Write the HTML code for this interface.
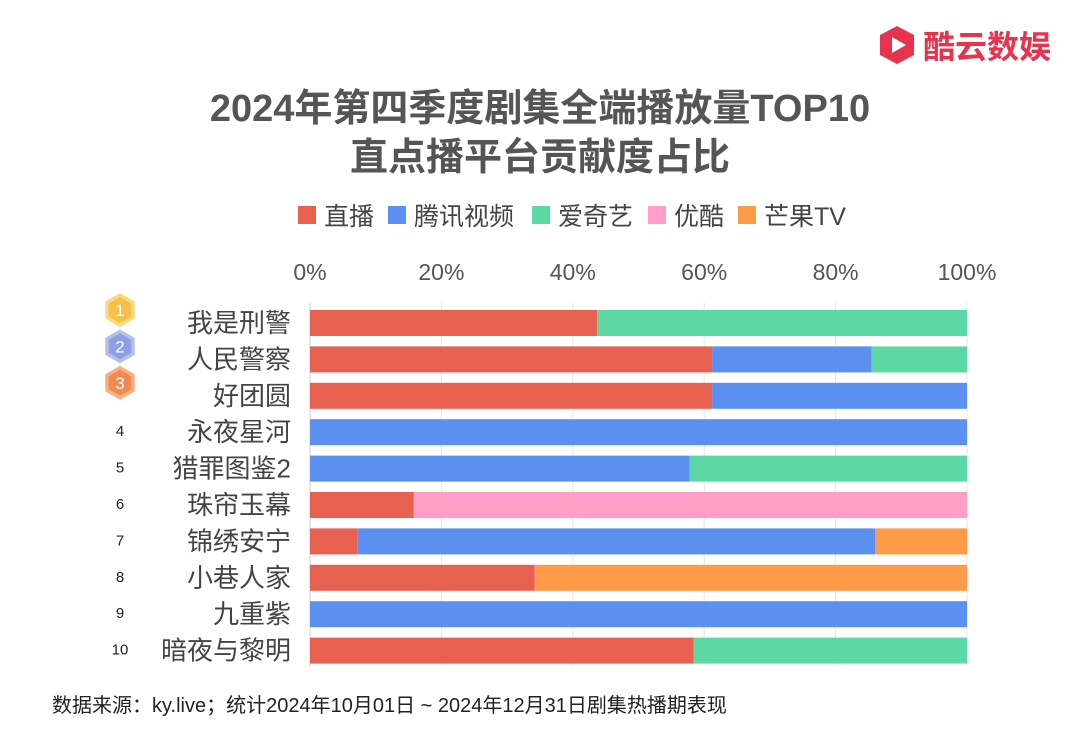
<!DOCTYPE html>
<html><head><meta charset="utf-8"><style>
body{margin:0;width:1080px;height:735px;background:#fff;overflow:hidden;font-family:"Liberation Sans","Noto Sans CJK SC",sans-serif;}
svg text{font-family:"Liberation Sans","Noto Sans CJK SC",sans-serif;}
</style></head><body>
<svg id="c" width="1080" height="735">
<g>
<polygon points="897,26 914,35 914,55 897,64 880,55 880,35" fill="#e8334f"/>
<polygon points="892,37 906,45 892,53" fill="#fff"/>
<text x="923" y="58" font-size="32" font-weight="bold" fill="#e8334f">酷云数娱</text>
</g>
<text x="540" y="121" text-anchor="middle" font-size="38" font-weight="bold" fill="#555">2024年第四季度剧集全端播放量TOP10</text>
<text x="540" y="170" text-anchor="middle" font-size="38" font-weight="bold" fill="#555">直点播平台贡献度占比</text>
<g id="legend"></g>
<g id="grid"></g>
<g id="bars"></g>
<g id="labels"></g>
<text x="52" y="712" font-size="20" fill="#222">数据来源：ky.live；统计2024年10月01日 ~ 2024年12月31日剧集热播期表现</text>
</svg>
<script>
const categories=["我是刑警","人民警察","好团圆","永夜星河","猎罪图鉴2","珠帘玉幕","锦绣安宁","小巷人家","九重紫","暗夜与黎明"];
const seriesNames=["直播","腾讯视频","爱奇艺","优酷","芒果TV"];
const live=[43.7,61.2,61.2,0,0,15.8,7.2,34.2,0,58.4];
const tencent=[0,24.3,38.8,100,57.8,0,78.8,0,100,0];
const iqiyi=[56.3,14.5,0,0,42.2,0,0,0,0,41.6];
const youku=[0,0,0,0,0,84.2,0,0,0,0];
const mango=[0,0,0,0,0,0,14,65.8,0,0];
const ticks=[0,20,40,60,80,100];
const colors=["#e8604f","#5b8ff0","#5cd8a4","#ff9ec6","#ff9a48"];
const NS="http://www.w3.org/2000/svg";
const x0=310,x1=967,y0=310,step=36.4,bh=26;
const xs=v=>x0+(x1-x0)*v/100;
const ys=i=>y0+i*step;
function mk(t,a,p){const e=document.createElementNS(NS,t);for(const k in a)e.setAttribute(k,a[k]);document.getElementById(p).appendChild(e);return e;}
const lx=[298,388,532,648,738];
seriesNames.forEach((n,i)=>{
 const r=mk("rect",{x:lx[i],y:206,width:18,height:18,fill:colors[i]},"legend");
 
 
 const t=mk("text",{x:lx[i]+26,y:225,"font-size":25,fill:"#444"},"legend");t.textContent=n;
 
 
});
ticks.forEach(v=>{
 const l=mk("line",{x1:xs(v),x2:xs(v),y1:303,y2:666,stroke:v==0?"#ccc":"#e6e6e6","stroke-width":1},"grid");
 
 
 const t=mk("text",{x:xs(v),y:280,"text-anchor":"middle","font-size":23,fill:"#555"},"grid");t.textContent=v+"%";
 
 
});
const series=[live,tencent,iqiyi,youku,mango];
const medal=[["#f6c04a","#fbd87f"],["#8ea0e0","#b3c0ee"],["#f08a50","#f7b07f"]];
categories.forEach((c,i)=>{
 let acc=0;
 series.forEach((s,k)=>{
  if(s[i]>0){const r=mk("rect",{x:xs(acc),y:ys(i),width:xs(acc+s[i])-xs(acc),height:bh,fill:colors[k]},"bars");
  
  }
  acc+=s[i];
 });
 const cy=ys(i)+bh/2;
 const t=mk("text",{x:291,y:cy+9,"text-anchor":"end","font-size":26,fill:"#444"},"labels");t.textContent=c;
 
 
 if(i<3){
  const mx=120,my=cy-13,R=17,r2=13;
  const hex=(R)=>[0,1,2,3,4,5].map(j=>{const a=Math.PI/3*j-Math.PI/2;return (mx+R*Math.cos(a))+","+(my+R*Math.sin(a));}).join(" ");
  const h=mk("polygon",{points:hex(R),fill:medal[i][1]},"labels");
  
  
  mk("polygon",{points:hex(r2),fill:medal[i][0]},"labels");
  const n=mk("text",{x:mx,y:my+6,"text-anchor":"middle","font-size":17,fill:"#fff"},"labels");n.textContent=i+1;
 }else{
  const n=mk("text",{x:120,y:cy+4,"text-anchor":"middle","font-size":15,fill:"#222"},"labels");n.textContent=i+1;
  
  
 }
});
</script>
</body></html>
